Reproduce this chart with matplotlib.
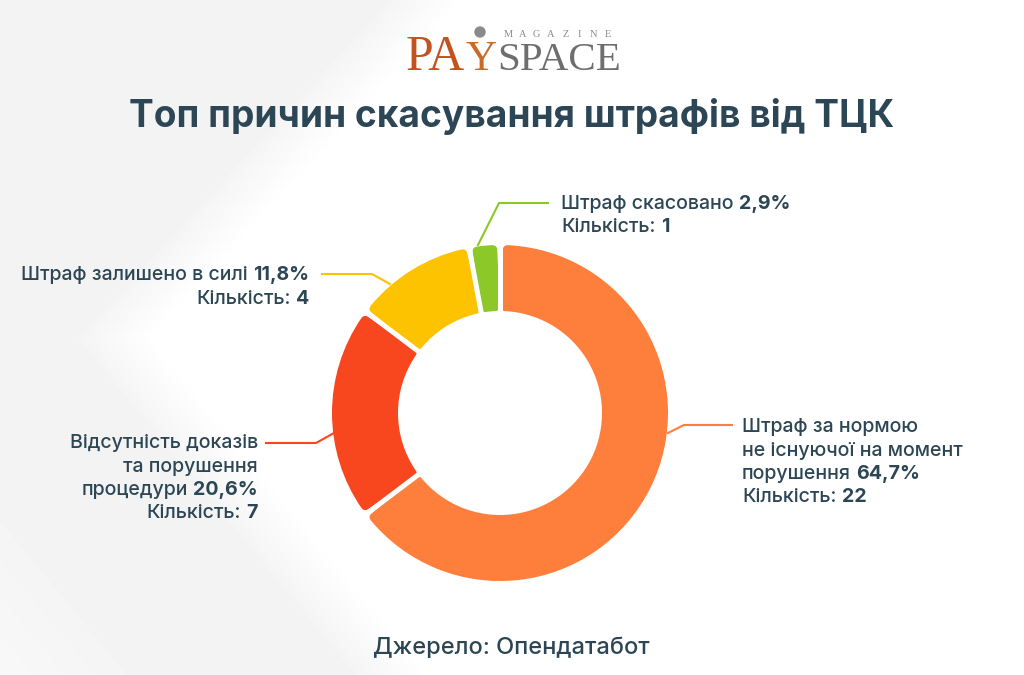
import numpy as np
import matplotlib
matplotlib.use("Agg")
import matplotlib.pyplot as plt

# ---------------- data ----------------
categories = [
    ["Штраф за нормою", "не існуючої на момент", "порушення"],
    ["Відсутність доказів", "та порушення", "процедури"],
    ["Штраф залишено в силі"],
    ["Штраф скасовано"],
]
counts = [22, 7, 4, 1]
pct_labels = ["64,7%", "20,6%", "11,8%", "2,9%"]
colors = ["#FE7F3C", "#F8461F", "#FDC300", "#8CC828"]

title = "Топ причин скасування штрафів від ТЦК"
source = "Джерело: Опендатабот"
count_word = "Кількість:"

W, H = 1024, 675
FONT = ["Inter", "DejaVu Sans"]
TXT = "#2C4655"
REG = 500

fig = plt.figure(figsize=(W / 100, H / 100), dpi=100)
ax = fig.add_axes([0, 0, 1, 1])


def Y(y):
    return H - y


# ---------------- background ----------------
xx, yy = np.meshgrid(np.arange(W), np.arange(H))
xx = xx.astype(float)
yy = yy.astype(float)
x1 = 467 - 0.923 * yy
x2 = 155 + 0.825 * (yy - 338)
edge = np.maximum(x1, x2)
grey = np.clip((edge - xx) / 90, 0, 1)
far = (x2 - xx) * (yy > 338)
grey = grey * (1 - 0.5 * np.clip((far - 250) / 200, 0, 1))
bg = 1 - 0.05 * grey
ax.imshow(bg, extent=[0, W, 0, H], origin="upper", cmap="gray",
          vmin=0, vmax=1, zorder=0, interpolation="bilinear")

# ---------------- donut ----------------
CX, CY = 500, 413
R, WID = 168, 66
wedges, _ = ax.pie(counts, colors=colors, startangle=90, counterclock=False,
                   radius=R, center=(CX, Y(CY)),
                   wedgeprops=dict(width=WID), frame=True)
corner = 4.5  # px
dang = np.degrees((2.75 + corner) / (R - corner))
bounds = []
for w in wedges:
    bounds.append(w.theta1)
    fc = w.get_facecolor()
    w.set_radius(R - corner)
    w.set_width(WID - 2 * corner)
    w.set_theta1(w.theta1 + dang)
    w.set_theta2(w.theta2 - dang)
    w.set_edgecolor(fc)
    w.set_linewidth(2 * corner * 0.72)
    w.set_joinstyle("round")
    w.set_zorder(2)
for b in bounds:
    a = np.radians(b)
    ax.plot([CX + (R - WID - 4) * np.cos(a), CX + (R + 4) * np.cos(a)],
            [Y(CY) + (R - WID - 4) * np.sin(a), Y(CY) + (R + 4) * np.sin(a)],
            color="white", lw=5 * 0.72, solid_capstyle="butt", zorder=3)

# ---------------- leader lines ----------------
leaders = [
    [(668, 433), (684, 425), (732, 425)],
    [(334, 433), (316, 443), (266, 443)],
    [(390, 284), (372, 274), (322, 274)],
    [(478, 245), (499, 203), (548, 203)],
]
for pts, c in zip(leaders, colors):
    ax.plot([p[0] for p in pts], [Y(p[1]) for p in pts], color=c, lw=1.5,
            zorder=1.5)

renderer = fig.canvas.get_renderer()
FS = 14.1


def width_of(s, weight, size=FS):
    t = ax.text(0, 0, s, fontsize=size, family=FONT, fontweight=weight)
    w = t.get_window_extent(renderer).width
    t.remove()
    return w


SPACE_W = width_of("x x", REG) - width_of("xx", REG)


def draw_line(x, y, segs, ha="left", size=FS, color=TXT):
    texts, widths = [], []
    for s, b in segs:
        t = ax.text(0, 0, s, fontsize=size, family=FONT, color=color,
                    fontweight="bold" if b else REG, va="baseline",
                    ha="left", zorder=5)
        texts.append(t)
        widths.append(t.get_window_extent(renderer).width)
    total = sum(widths) + SPACE_W * (len(segs) - 1)
    cx = x if ha == "left" else x - total
    for t, w in zip(texts, widths):
        t.set_position((cx, Y(y)))
        cx += w + SPACE_W


def draw_label(x, y0, lines, pct, cnt, ha, lh=23.5):
    for i, ln in enumerate(lines):
        segs = [(ln, False)]
        if i == len(lines) - 1:
            segs.append((pct, True))
        draw_line(x, y0 + i * lh, segs, ha)
    draw_line(x, y0 + len(lines) * lh, [(count_word, False), (str(cnt), True)], ha)


draw_label(742, 432, categories[0], pct_labels[0], counts[0], "left")
draw_label(258, 448, categories[1], pct_labels[1], counts[1], "right")
draw_label(309, 280, categories[2], pct_labels[2], counts[2], "right")
draw_label(561, 209, categories[3], pct_labels[3], counts[3], "left")

# ---------------- title & source ----------------
ax.text(512, Y(127), title, fontsize=26.7, fontweight="bold", family=FONT,
        color=TXT, ha="center", va="baseline", zorder=5)
ax.text(511, Y(654), source, fontsize=17, family=FONT, color=TXT,
        fontweight=REG, ha="center", va="baseline", zorder=5)

# ---------------- logo ----------------
SERIF = ["Liberation Serif", "DejaVu Serif"]
ax.text(406, Y(70), "PA", fontsize=36, family=SERIF, color="#C0531F",
        ha="left", va="baseline", zorder=5)
ax.text(466, Y(70), "Y", fontsize=31, family=SERIF, color="#C86A2A",
        ha="left", va="baseline", zorder=5)
ax.add_patch(plt.Circle((480, Y(32)), 5, color="#8A8A8A", zorder=6))
ax.text(497, Y(70), "SPACE", fontsize=29.5, family=SERIF, color="#6E6E6E",
        ha="left", va="baseline", zorder=5)
for i, ch in enumerate("MAGAZINE"):
    ax.text(508 + i * 14.3, Y(37), ch, fontsize=7.5, family=SERIF,
            color="#8A8A8A", ha="center", va="baseline", zorder=5)

ax.set_xlim(0, W)
ax.set_ylim(0, H)
ax.set_aspect("auto")
ax.axis("off")
fig.savefig("out.png", dpi=100)
